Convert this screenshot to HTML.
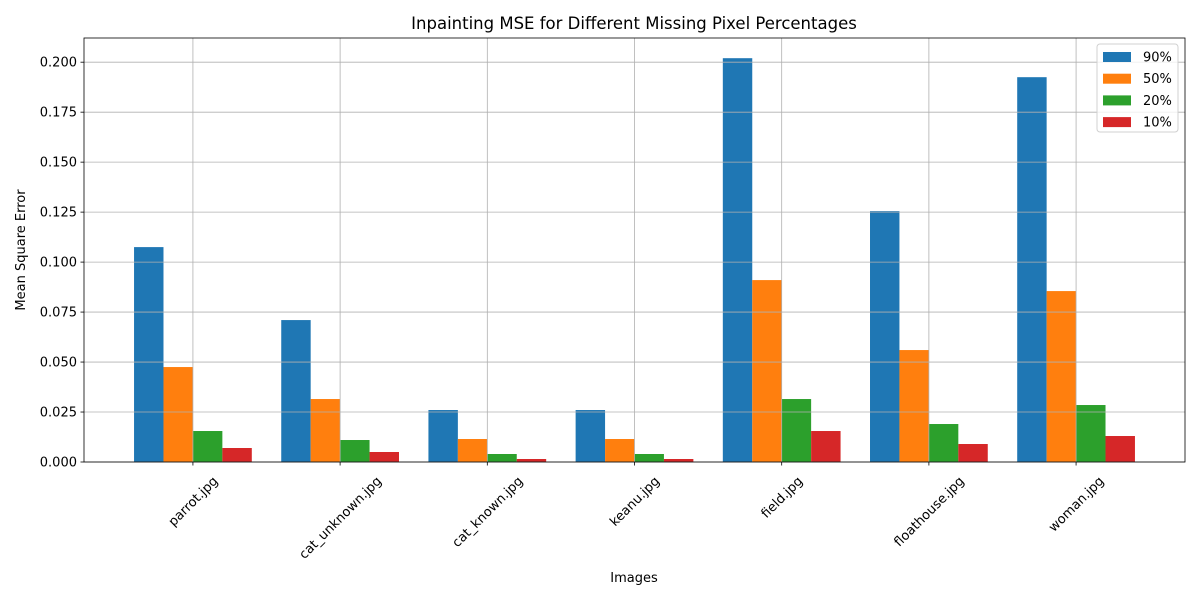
<!DOCTYPE html>
<html><head><meta charset="utf-8"><style>
html,body{margin:0;padding:0;background:#fff;}
svg{display:block;font-family:"DejaVu Sans","Liberation Sans",sans-serif;}
</style></head><body>
<svg id="chart" width="1200" height="600">
<rect width="1200" height="600" fill="#fff"/>
<g id="bars"></g><g id="grid"></g><g id="axes"></g>
<text x="634" y="29" font-size="16.5" text-anchor="middle">Inpainting MSE for Different Missing Pixel Percentages</text>
<text x="634" y="582" font-size="13" text-anchor="middle">Images</text>
<text transform="translate(25,250) rotate(-90)" font-size="13" text-anchor="middle">Mean Square Error</text>
<g id="legend"></g>
</svg>
<script>
const categories=["parrot.jpg","cat_unknown.jpg","cat_known.jpg","keanu.jpg","field.jpg","floathouse.jpg","woman.jpg"];
const seriesNames=["90%","50%","20%","10%"];
const s90=[0.1075,0.071,0.026,0.026,0.202,0.1255,0.1925];
const s50=[0.0475,0.0315,0.0115,0.0115,0.091,0.056,0.0855];
const s20=[0.0155,0.011,0.004,0.004,0.0315,0.019,0.0285];
const s10=[0.007,0.005,0.0015,0.0015,0.0155,0.009,0.013];
const yTicks=[0,0.025,0.05,0.075,0.1,0.125,0.15,0.175,0.2];
const yTickLabels=["0.000","0.025","0.050","0.075","0.100","0.125","0.150","0.175","0.200"];
const colors=["#1f77b4","#ff7f0e","#2ca02c","#d62728"];
const series=[s90,s50,s20,s10];
const NS="http://www.w3.org/2000/svg";
const L=84,R=1185,T=38,B=462;
const n=categories.length;
const xmin=-0.4-0.05*(n-1+0.8),xmax=n-1+0.4+0.05*(n-1+0.8);
const x=v=>L+(v-xmin)/(xmax-xmin)*(R-L);
const allMax=Math.max(...series.flat());
const ymax=allMax*1.05;
const y=v=>B-v/ymax*(B-T);
function mk(tag,attrs,parent){const e=document.createElementNS(NS,tag);for(const k in attrs)e.setAttribute(k,attrs[k]);parent.appendChild(e);return e;}
const grid=document.getElementById('grid'),bars=document.getElementById('bars'),axes=document.getElementById('axes');
yTicks.forEach((t,i)=>{
 const g=mk('line',{x1:L,x2:R,y1:y(t),y2:y(t),stroke:'#b0b0b0','stroke-width':0.8},grid);
 
 
 mk('line',{x1:L-3.5,x2:L,y1:y(t),y2:y(t),stroke:'#000','stroke-width':0.8},axes);
 const tx=mk('text',{x:L-7,y:y(t)+4.5,'font-size':13,'text-anchor':'end'},axes);
 tx.textContent=yTickLabels[i];
 
 
});
categories.forEach((c,i)=>{
 const cx=x(i);
 const g=mk('line',{x1:cx,x2:cx,y1:T,y2:B,stroke:'#b0b0b0','stroke-width':0.8},grid);
 
 
 mk('line',{x1:cx,x2:cx,y1:B,y2:B+3.5,stroke:'#000','stroke-width':0.8},axes);
 const tx=mk('text',{'font-size':13,'text-anchor':'middle'},axes);
 tx.textContent=c;
 
 
 const w=tx.getComputedTextLength();
 const h=(w+13)*0.7071/2;
 tx.setAttribute('transform',`translate(${cx},${B+12+h}) rotate(-45)`);
 tx.setAttribute('y',4.5);
 series.forEach((s,k)=>{
  const x0=x(i-0.4+0.2*k),x1=x(i-0.2+0.2*k);
  const r=mk('rect',{x:x0,y:y(s[i]),width:x1-x0,height:B-y(s[i]),fill:colors[k]},bars);
  
  
 });
});
mk('rect',{x:L,y:T,width:R-L,height:B-T,fill:'none',stroke:'#000','stroke-width':0.8},axes);
const lg=document.getElementById('legend');
mk('rect',{x:1097,y:44,width:81,height:88,rx:3,fill:'#fff','fill-opacity':0.8,stroke:'#d0d0d0','stroke-width':1},lg);
seriesNames.forEach((nm,k)=>{
 const yy=52+k*21.7;
 const p=mk('rect',{x:1103,y:yy,width:28,height:10,fill:colors[k]},lg);
 
 
 const t=mk('text',{x:1143,y:yy+9.5,'font-size':13},lg);
 t.textContent=nm;
 
 
});
</script>
</body></html>
